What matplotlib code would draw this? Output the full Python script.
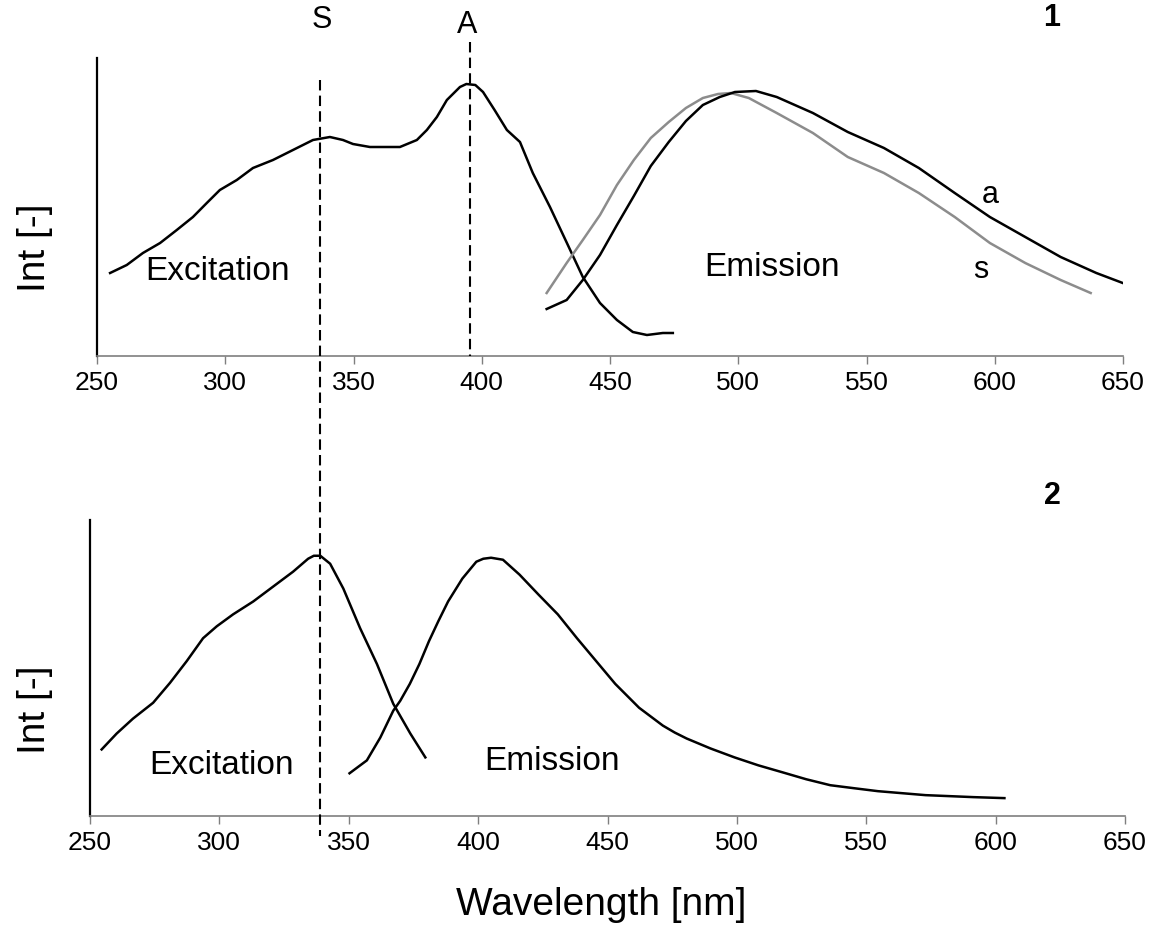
import matplotlib
matplotlib.use("Agg")
import matplotlib.pyplot as plt
from matplotlib.lines import Line2D
from matplotlib.transforms import blended_transform_factory

plt.rcParams['font.family'] = ['Liberation Sans', 'DejaVu Sans']

# ---------------- data ----------------
# Panel 1 excitation
exc1_x = [255.1, 261.6, 267.9, 274.6, 281.1, 287.4, 292.8, 297.9, 304.5, 310.8, 318.6, 326.4,
          334.2, 340.8, 345.9, 349.8, 356.4, 368.1, 374.7, 378.6, 382.5, 386.4, 391.5, 394.0,
          397.5, 400.5, 405.0, 409.8, 414.9, 419.9, 426.6, 433.2, 439.4, 446.1, 452.7, 458.9,
          464.4, 470.6, 474.5]
exc1_y = [83, 91, 103, 113, 126, 139, 153, 166, 176, 188, 196, 206,
          216, 219, 216, 212, 209, 209, 216, 226, 239, 256, 269, 272,
          271, 264, 246, 226, 214, 183, 149, 113, 79, 53, 36, 24,
          21, 23, 23]
# Panel 1 emission, sample s (grey)
ems_x = [425.3, 433.1, 439.4, 446.1, 452.7, 459.3, 465.9, 472.9, 479.6, 486.2, 492.1, 497.1,
         504.1, 515.0, 529.1, 542.7, 556.8, 570.4, 584.4, 598.1, 611.9, 625.7, 637.4]
ems_y = [63, 93, 116, 141, 171, 196, 218, 234, 248, 258, 262, 263,
         258, 243, 223, 199, 183, 163, 139, 113, 93, 76, 63]
# Panel 1 emission, sample a (black)
ema_x = [425.3, 433.1, 439.4, 446.1, 452.7, 459.3, 465.9, 472.9, 479.6, 486.2, 492.8, 498.7,
         506.9, 515.0, 529.1, 542.7, 556.8, 570.4, 584.4, 598.1, 611.9, 625.7, 639.6, 649.9]
ema_y = [47, 56, 76, 101, 131, 160, 190, 214, 235, 251, 259, 264,
         265, 259, 243, 224, 208, 188, 163, 139, 119, 99, 83, 73]
# Panel 2 excitation
exc2_x = [254.5, 260.3, 266.6, 274.4, 280.9, 287.4, 293.7, 299.0, 305.3, 313.1, 320.8, 328.5,
          334.3, 336.5, 339.0, 342.8, 347.9, 354.4, 360.9, 367.2, 373.8, 379.6]
exc2_y = [67, 83, 98, 114, 134, 156, 179, 191, 203, 216, 231, 246,
          259, 262, 262, 254, 229, 189, 153, 113, 83, 59]
# Panel 2 emission
em2_x = [350.3, 357.0, 362.2, 367.2, 369.9, 373.6, 377.3, 381.0, 384.6, 388.4, 393.9, 399.3,
         402.0, 405.0, 409.6, 416.0, 423.3, 430.8, 438.2, 445.6, 453.0, 462.2, 471.4, 476.0,
         480.6, 489.8, 499.1, 508.3, 517.6, 526.8, 536.1, 545.2, 554.5, 572.9, 591.4, 603.4]
em2_y = [43, 56, 79, 106, 116, 133, 153, 176, 196, 216, 239, 256,
         259, 260, 258, 243, 223, 203, 179, 156, 133, 109, 91, 84,
         78, 68, 59, 51, 44, 37, 31, 28, 25, 21, 19, 18]

xticks = [250, 300, 350, 400, 450, 500, 550, 600, 650]
line_S = 337.0   # nm, dashed line S
line_A = 395.4   # nm, dashed line A

# ---------------- figure ----------------
W, H = 1155, 943
fig = plt.figure(figsize=(W / 100, H / 100), dpi=100)

def px_axes(l, r, t, b):
    return fig.add_axes([l / W, 1 - b / H, (r - l) / W, (b - t) / H])

ax1 = px_axes(97, 1123, 58, 356)
ax2 = px_axes(90, 1125, 520, 816)

for ax in (ax1, ax2):
    ax.set_xlim(250, 650)
    ax.set_ylim(0, 298)
    ax.set_xticks(xticks)
    ax.set_xticklabels([str(t) for t in xticks], fontsize=19)
    ax.set_yticks([])
    for s in ('top', 'right'):
        ax.spines[s].set_visible(False)
    ax.spines['left'].set_color('black')
    ax.spines['left'].set_linewidth(1.6)
    ax.spines['bottom'].set_color('#7f7f7f')
    ax.spines['bottom'].set_linewidth(1.2)
    ax.tick_params(axis='x', direction='out', length=5.5, width=1.0,
                   color='#7f7f7f', pad=5, labelcolor='black')
    ax.patch.set_alpha(0)

lw = 1.8
ax1.plot(exc1_x, exc1_y, color='black', lw=lw)
ax1.plot(ems_x, ems_y, color='#8c8c8c', lw=lw)
ax1.plot(ema_x, ema_y, color='black', lw=lw)
ax2.plot(exc2_x, exc2_y, color='black', lw=lw)
ax2.plot(em2_x, em2_y, color='black', lw=lw)

# dashed marker lines
tS = blended_transform_factory(ax1.transData, fig.transFigure)
fig.add_artist(Line2D([line_S, line_S], [1 - 80 / H, 1 - 836 / H], transform=tS,
                      color='black', lw=1.5, linestyle=(0, (5, 2.5))))
fig.add_artist(Line2D([line_A, line_A], [1 - 42 / H, 1 - 356 / H], transform=tS,
                      color='black', lw=1.5, linestyle=(0, (5, 2.5))))

def ftxt(x, y, s, **kw):
    fig.text(x / W, 1 - y / H, s, ha='center', va='center', **kw)

ftxt(322, 20, 'S', fontsize=22)
ftxt(467, 25, 'A', fontsize=22)
ftxt(1052, 18, '1', fontsize=22, fontweight='bold')
ftxt(1052, 496, '2', fontsize=22, fontweight='bold')
ftxt(218, 272, 'Excitation', fontsize=24)
ftxt(772, 267, 'Emission', fontsize=24)
ftxt(222, 765, 'Excitation', fontsize=24)
ftxt(552, 762, 'Emission', fontsize=24)
ftxt(990, 195, 'a', fontsize=22)
ftxt(981, 270, 's', fontsize=22)
ftxt(35, 248, 'Int [-]', fontsize=28, rotation=90)
ftxt(35, 710, 'Int [-]', fontsize=28, rotation=90)
ftxt(601, 905, 'Wavelength [nm]', fontsize=28)

fig.savefig('out.png', dpi=100)
